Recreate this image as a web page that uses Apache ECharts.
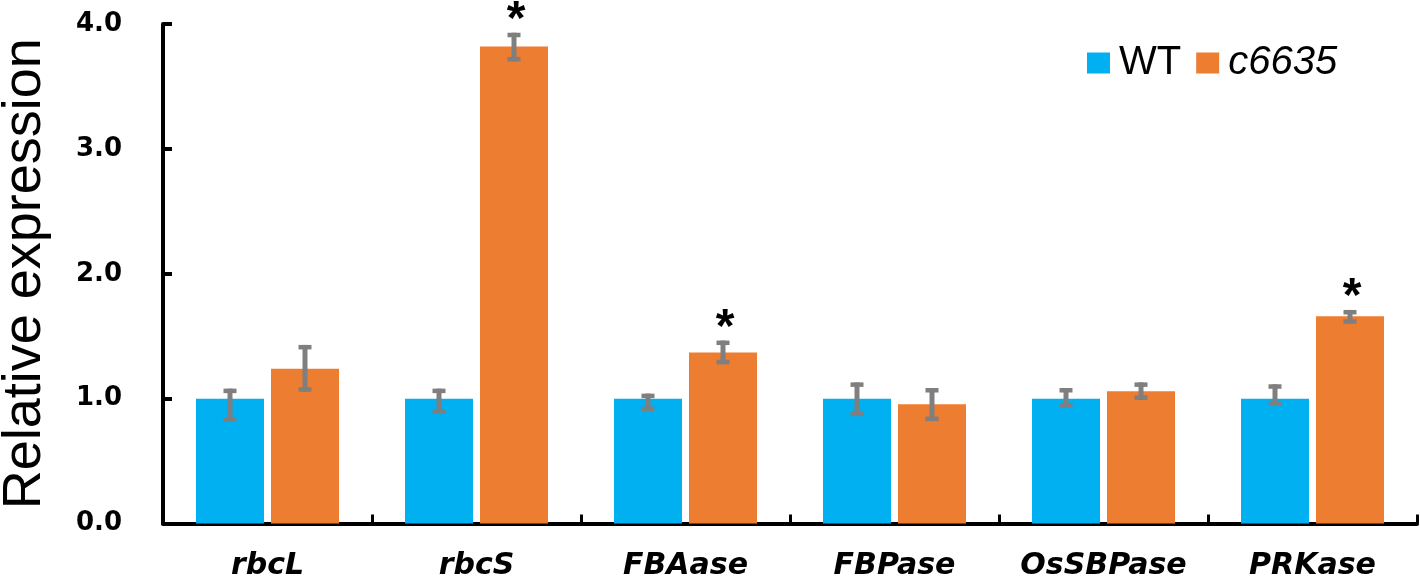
<!DOCTYPE html>
<html><head><meta charset="utf-8">
<script src="https://cdn.jsdelivr.net/npm/echarts@6/dist/echarts.min.js"></script>
<style>html,body{margin:0;padding:0;background:#fff}#c{width:1420px;height:581px}</style>
</head><body><div id="c"></div>
<script>
const categories = ['rbcL','rbcS','FBAase','FBPase','OsSBPase','PRKase'];
const seriesNames = ['WT','c6635'];
const wtValues = [1.0, 1.0, 1.0, 1.0, 1.0, 1.0];
const wtLow    = [0.815, 0.88, 0.90, 0.86, 0.93, 0.945];
const wtHigh   = [1.08, 1.08, 1.04, 1.13, 1.085, 1.115];
const mutValues = [1.24, 3.82, 1.37, 0.955, 1.06, 1.66];
const mutLow    = [1.055, 3.70, 1.275, 0.82, 0.99, 1.60];
const mutHigh   = [1.43, 3.93, 1.465, 1.085, 1.13, 1.71];
const significance = ['', '*', '*', '', '', '*'];
const yTicks = [0, 1, 2, 3, 4];

const BAR_W = 68, GAP = 7;
const sans = '"Liberation Sans", Arial, sans-serif';
const wide = '"DejaVu Sans", sans-serif';

function errItem(offsetSign, sig) {
  return function (params, api) {
    const i = api.value(0);
    const off = offsetSign * (BAR_W + GAP) / 2;
    const pHigh = api.coord([i, api.value(2)]);
    const pLow = api.coord([i, api.value(1)]);
    const x = pHigh[0] + off;
    const cap = 6.5;
    const style = { stroke: '#7f7f7f', lineWidth: 4.5 };
    const children = [
      { type: 'line', shape: { x1: x, y1: pHigh[1], x2: x, y2: pLow[1] }, style: { stroke: '#7f7f7f', lineWidth: 5 } },
      { type: 'line', shape: { x1: x - cap, y1: pHigh[1] + 2.25, x2: x + cap, y2: pHigh[1] + 2.25 }, style },
      { type: 'line', shape: { x1: x - cap, y1: pLow[1] - 2.25, x2: x + cap, y2: pLow[1] - 2.25 }, style }
    ];
    if (sig && sig[i]) {
      children.push({ type: 'text', style: { text: sig[i], x: x + 2, y: pHigh[1] - 12, align: 'center', verticalAlign: 'middle', font: 'bold 48px ' + sans, fill: '#000' } });
    }
    return { type: 'group', children };
  };
}

const chart = echarts.init(document.getElementById('c'), null, { renderer: 'canvas' });
chart.setOption({
  animation: false,
  backgroundColor: '#fff',
  grid: { left: 163, right: 3, top: 24, bottom: 57.5, containLabel: false, outerBoundsMode: 'none' },
  legend: {
    data: seriesNames, left: 1082, top: 38, itemWidth: 23, itemHeight: 21, itemGap: 15,
    icon: 'rect',
    textStyle: { fontFamily: sans, fontSize: 40, color: '#000', padding: [0, 0, 0, 4],
      rich: { i: { fontStyle: 'italic', fontFamily: sans, fontSize: 40, color: '#000' } } },
    formatter: n => n === 'c6635' ? '{i|' + n + '}' : n
  },
  xAxis: {
    type: 'category', data: categories,
    axisLine: { lineStyle: { color: '#000', width: 4 } },
    axisTick: { show: true, inside: true, length: 9, interval: 0, lineStyle: { color: '#000', width: 3 } },
    axisLabel: { interval: 0, fontFamily: wide, fontSize: 30, fontWeight: 'bold', fontStyle: 'italic', color: '#000', margin: 28 }
  },
  yAxis: {
    type: 'value', min: 0, max: 4, interval: 1,
    name: 'Relative expression', nameLocation: 'middle', nameGap: 111,
    nameTextStyle: { fontFamily: sans, fontSize: 54, color: '#000' },
    axisLine: { show: true, lineStyle: { color: '#000', width: 4 } },
    axisTick: { show: true, inside: true, length: 9, lineStyle: { color: '#000', width: 4 } },
    splitLine: { show: false },
    axisLabel: { fontFamily: wide, fontSize: 26, fontWeight: 'bold', color: '#000', margin: 41,
      formatter: v => yTicks.includes(v) ? v.toFixed(1) : '' }
  },
  series: [
    { name: 'WT', type: 'bar', data: wtValues, barWidth: BAR_W, barGap: (GAP / BAR_W * 100) + '%', itemStyle: { color: '#00B0F0' } },
    { name: 'c6635', type: 'bar', data: mutValues, barWidth: BAR_W, itemStyle: { color: '#ED7D31' } },
    { type: 'custom', renderItem: errItem(-1, null), data: categories.map((c, i) => [i, wtLow[i], wtHigh[i]]), z: 5, silent: true },
    { type: 'custom', renderItem: errItem(1, significance), data: categories.map((c, i) => [i, mutLow[i], mutHigh[i]]), z: 5, silent: true }
  ]
});
</script></body></html>
